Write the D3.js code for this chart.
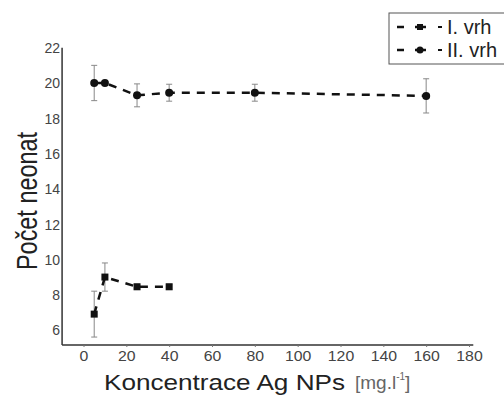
<!DOCTYPE html>
<html><head><meta charset="utf-8">
<script src="https://cdn.jsdelivr.net/npm/d3@7"></script>
<style>body{margin:0;background:#fff}svg{display:block}</style>
</head><body>
<svg id="c" width="504" height="397"></svg>
<script>
const xTicks = [0,20,40,60,80,100,120,140,160,180];
const yTicks = [6,8,10,12,14,16,18,20,22];
const s1x = [5,10,25,40];
const s1y = [6.9,9.0,8.45,8.45];
const s1err = [1.3,0.8,0.15,0.15];
const s2x = [5,10,25,40,80,160];
const s2y = [20.0,20.0,19.3,19.45,19.45,19.27];
const s2err = [1.0,0,0.65,0.48,0.48,0.97];
const seriesNames = ["I. vrh","II. vrh"];

const svg = d3.select("#c");
const x = d3.scaleLinear().domain([0,180]).range([83.5,469]);
const y = d3.scaleLinear().domain([6,20]).range([330,83]);
const font = "Liberation Sans, Arial, sans-serif";
const X0 = x(-10), X1 = x(182), Y0 = 345, Y1 = y(22);

// axes
const xa = svg.append("g").attr("transform",`translate(0,${Y0})`)
  .call(d3.axisBottom(x).tickValues(xTicks).tickSize(2).tickPadding(3));
xa.select(".domain").attr("stroke","#333").attr("stroke-width",1.5).attr("d",`M${X0},0H${X1}`);
xa.selectAll(".tick line").attr("stroke","#777");
xa.selectAll("text").attr("font-family",font).attr("font-size",15.5).attr("fill","#444")
  .attr("textLength",function(){return this.textContent.length*8.8;}).attr("lengthAdjust","spacingAndGlyphs");

const ya = svg.append("g").attr("transform",`translate(${X0},0)`)
  .call(d3.axisLeft(y).tickValues(yTicks).tickSize(0).tickPadding(2));
ya.select(".domain").attr("stroke","#333").attr("stroke-width",1.5).attr("d",`M0,${Y1}V${Y0}`);
ya.selectAll("text").attr("font-family",font).attr("font-size",15.5).attr("fill","#444")
  .attr("textLength",function(){return this.textContent.length*7.8;}).attr("lengthAdjust","spacingAndGlyphs");

// titles
svg.append("text").attr("transform","translate(37,201) rotate(-90)")
  .attr("text-anchor","middle").attr("font-family",font).attr("font-size",30).attr("fill","#222")
  .attr("textLength",138).attr("lengthAdjust","spacingAndGlyphs")
  .text("Počet neonat");
svg.append("text").attr("x",104).attr("y",390)
  .attr("font-family",font).attr("font-size",21.5).attr("fill","#222")
  .attr("textLength",241).attr("lengthAdjust","spacingAndGlyphs")
  .text("Koncentrace Ag NPs");
const xt = svg.append("text").attr("x",355).attr("y",389)
  .attr("font-family",font).attr("font-size",19).attr("fill","#666");
xt.append("tspan").attr("font-weight",300).text("[");
xt.append("tspan").text("mg.l");
xt.append("tspan").attr("font-size",10).attr("dy",-9).text("-1");
xt.append("tspan").attr("dy",9).text("]");

function drawSeries(xs, ys, es, marker){
  const pts = xs.map((v,i)=>({x:v,y:ys[i],e:es[i]}));
  const g = svg.append("g");
  pts.filter(d=>d.e>0).forEach(d=>{
    const px = x(d.x);
    g.append("line").attr("x1",px).attr("x2",px).attr("y1",y(d.y+d.e)).attr("y2",y(d.y-d.e))
      .attr("stroke","#888").attr("stroke-width",1);
    [d.y+d.e,d.y-d.e].forEach(v=>{
      g.append("line").attr("x1",px-3).attr("x2",px+3).attr("y1",y(v)).attr("y2",y(v))
        .attr("stroke","#888").attr("stroke-width",1);
    });
  });
  const line = d3.line().x(d=>x(d.x)).y(d=>y(d.y));
  g.append("path").datum(pts).attr("d",line).attr("fill","none").attr("stroke","#111")
    .attr("stroke-width",2.5).attr("stroke-dasharray","8,7");
  pts.forEach(d=>{
    if(marker==="square"){
      g.append("rect").attr("x",x(d.x)-3.5).attr("y",y(d.y)-3.5).attr("width",7).attr("height",7).attr("fill","#111");
    } else {
      g.append("circle").attr("cx",x(d.x)).attr("cy",y(d.y)).attr("r",4).attr("fill","#111");
    }
  });
}
drawSeries(s1x,s1y,s1err,"square");
drawSeries(s2x,s2y,s2err,"circle");

// legend
const lg = svg.append("g");
lg.append("rect").attr("x",389).attr("y",13).attr("width",118).attr("height",51)
  .attr("fill","#fff").attr("stroke","#555").attr("stroke-width",1);
seriesNames.forEach((n,i)=>{
  const cy = 27 + i*23;
  lg.append("line").attr("x1",397).attr("x2",404).attr("y1",cy).attr("y2",cy).attr("stroke","#111").attr("stroke-width",2.5);
  lg.append("line").attr("x1",415).attr("x2",426).attr("y1",cy).attr("y2",cy).attr("stroke","#111").attr("stroke-width",2.5);
  lg.append("line").attr("x1",438).attr("x2",442).attr("y1",cy).attr("y2",cy).attr("stroke","#111").attr("stroke-width",2);
  if(i===0) lg.append("rect").attr("x",417).attr("y",cy-3).attr("width",6).attr("height",6).attr("fill","#111");
  else lg.append("circle").attr("cx",420).attr("cy",cy).attr("r",3.5).attr("fill","#111");
  lg.append("text").attr("x",447).attr("y",cy+7).attr("font-family",font).attr("font-size",20).attr("fill","#222").text(n);
});
</script>
</body></html>
